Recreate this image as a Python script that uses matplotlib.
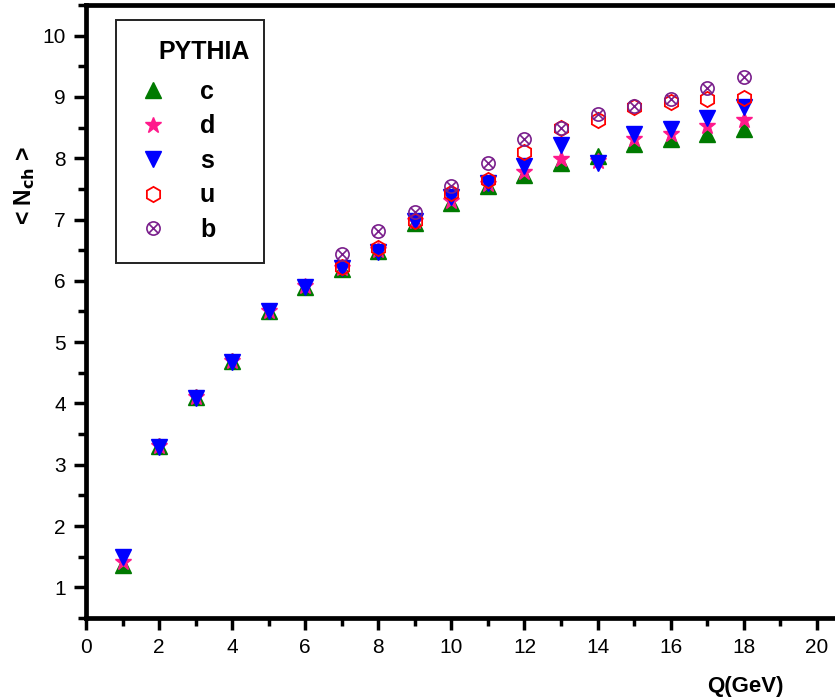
import numpy as np
import matplotlib
matplotlib.use("Agg")
import matplotlib.pyplot as plt
from matplotlib.path import Path
from matplotlib.patches import Rectangle
from matplotlib.ticker import MultipleLocator

plt.rcParams['font.family'] = ['Liberation Sans', 'DejaVu Sans']

# Mean charged multiplicity vs. energy scale Q, per quark flavour (PYTHIA)
q_all = [1, 2, 3, 4, 5, 6, 7, 8, 9, 10, 11, 12, 13, 14, 15, 16, 17, 18]
n_c = [1.36, 3.30, 4.10, 4.69, 5.50, 5.90, 6.19, 6.48, 6.95, 7.27, 7.55, 7.72, 7.92, 8.04, 8.23, 8.31, 8.40, 8.48]
n_d = [1.41, 3.31, 4.11, 4.70, 5.51, 5.91, 6.21, 6.50, 6.97, 7.31, 7.58, 7.78, 7.98, 7.96, 8.31, 8.40, 8.53, 8.63]
n_s = [1.49, 3.29, 4.09, 4.68, 5.50, 5.90, 6.21, 6.47, 6.98, 7.36, 7.59, 7.87, 8.21, 7.92, 8.39, 8.47, 8.65, 8.84]

q_heavy = [7, 8, 9, 10, 11, 12, 13, 14, 15, 16, 17, 18]
n_u = [6.22, 6.53, 6.97, 7.44, 7.64, 8.10, 8.49, 8.62, 8.83, 8.91, 8.97, 8.99]
n_b = [6.43, 6.82, 7.13, 7.54, 7.92, 8.31, 8.50, 8.72, 8.86, 8.97, 9.15, 9.32]

# circle with a cross inside
_circ = Path.unit_circle()
_s = 0.7071
_cross = Path([(-_s, -_s), (_s, _s), (-_s, _s), (_s, -_s)],
              [Path.MOVETO, Path.LINETO, Path.MOVETO, Path.LINETO])
otimes = Path.make_compound_path(_circ, _cross)

fig = plt.figure(figsize=(8.35, 6.99), dpi=100)
ax = fig.add_axes([86/835, 81/699, 1 - 86/835, 613/699])

ax.plot(q_all, n_c, linestyle='none', marker='^', ms=11, color='#007a00',
        mec='#007a00', label='c', zorder=3)
ax.plot(q_all, n_d, linestyle='none', marker='*', ms=12, color='#ff1a8c',
        mec='#ff1a8c', label='d', zorder=4)
ax.plot(q_all, n_s, linestyle='none', marker='v', ms=11, color='#0000ff',
        mec='#0000ff', label='s', zorder=5)
ax.plot(q_heavy, n_u, linestyle='none', marker='h', ms=11, mfc='none',
        mec='#ff0000', mew=1.3, label='u', zorder=6)
ax.plot(q_heavy, n_b, linestyle='none', marker=otimes, ms=9.5, mfc='none',
        mec='#7a1f8c', mew=1.2, label='b', zorder=7)

ax.set_xlim(0, 20.5)
ax.set_ylim(0.5, 10.5)
ax.xaxis.set_major_locator(MultipleLocator(2))
ax.xaxis.set_minor_locator(MultipleLocator(1))
ax.yaxis.set_major_locator(MultipleLocator(1))
ax.yaxis.set_minor_locator(MultipleLocator(0.5))

for side in ('left', 'bottom', 'top'):
    ax.spines[side].set_linewidth(3.4)
ax.spines['right'].set_visible(False)
ax.tick_params(which='major', direction='out', length=8.5, width=2.5,
               labelsize=15)
ax.tick_params(which='minor', direction='out', length=5.5, width=2.5)
ax.tick_params(axis='x', which='major', pad=6)
ax.tick_params(axis='y', which='major', pad=6)
ax.tick_params(top=False, right=False, which='both')

ax.set_xlabel('Q(GeV)', fontsize=16, fontweight='bold')
ax.xaxis.set_label_coords(0.88, -0.095)
ax.set_ylabel(r'< N$_{\mathbf{ch}}$ >', fontsize=16.5, fontweight='bold')
ax.yaxis.set_label_coords(-0.066, 0.705)

# legend box: frame, heading and entries
ax.add_patch(Rectangle((0.040, 0.579), 0.1976, 0.3964, transform=ax.transAxes,
                       fill=False, edgecolor='#222222', lw=1.4, clip_on=False,
                       zorder=8))
ax.text(0.157, 0.923, 'PYTHIA', transform=ax.transAxes, ha='center',
        va='center', fontsize=18, fontweight='bold', zorder=9)
leg = ax.legend(loc='upper left', bbox_to_anchor=(0.0587, 0.8777),
                frameon=False, prop={'size': 18, 'weight': 'bold'},
                handletextpad=0.96, labelspacing=0.42, borderpad=0.0,
                borderaxespad=0.0, handlelength=1.84)

fig.savefig('out.png', dpi=100)
